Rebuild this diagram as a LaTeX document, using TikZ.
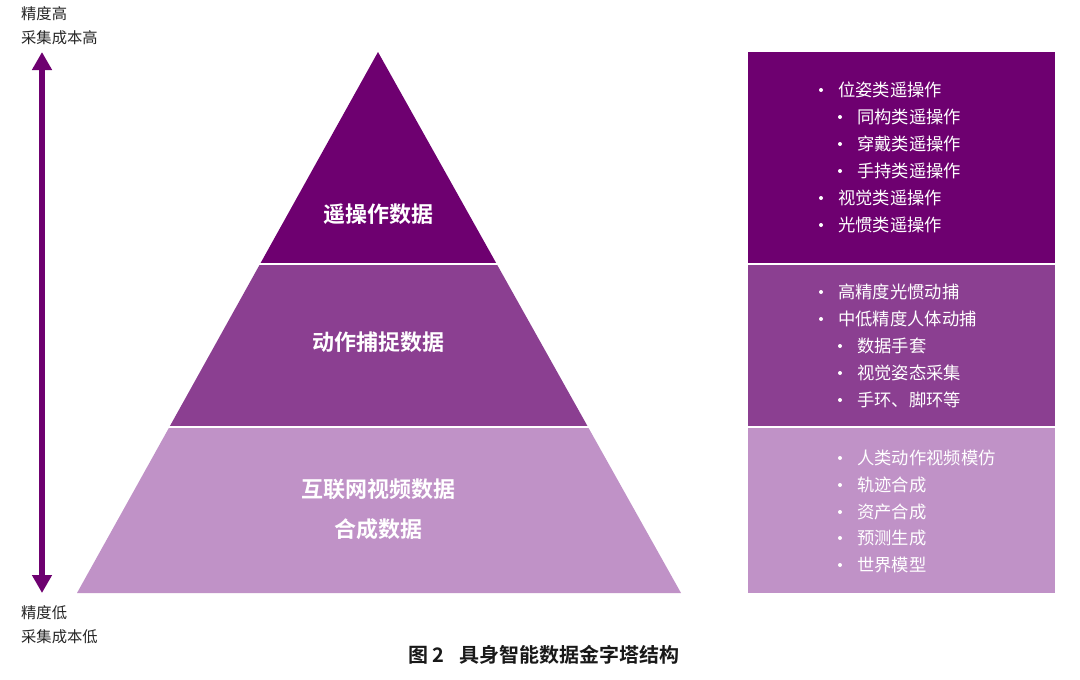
\documentclass[tikz,border=0pt]{standalone}
\usepackage{fontspec}
\setmainfont{Noto Sans CJK SC}[BoldFont={Noto Sans CJK SC Bold}]
\usetikzlibrary{arrows.meta}
\definecolor{pdark}{HTML}{6E0070}
\definecolor{pmid}{HTML}{8B3F91}
\definecolor{plight}{HTML}{C092C7}
\tikzset{
  tier/.style={text=white,font=\fontsize{22}{26}\selectfont\bfseries,inner sep=0pt},
  item/.style={text=white,font=\fontsize{17.3}{20}\selectfont,anchor=west,inner sep=0pt},
  bul/.style={circle,fill=white,inner sep=0pt,minimum size=4pt},
  side/.style={text=black!85,font=\fontsize{15.3}{18}\selectfont,anchor=west,inner sep=0pt},
  sep/.style={white,line width=2pt},
}
\begin{document}
\begin{tikzpicture}[x=1pt,y=-1pt]
\useasboundingbox (0,0) rectangle (1080,680);
\fill[white] (0,0) rectangle (1080,680);
% pyramid
\fill[pdark] (378,52) -- (496.7,264) -- (260.05,264) -- cycle;
\fill[pmid] (260.05,264) -- (496.7,264) -- (588,427) -- (169.4,427) -- cycle;
\fill[plight] (169.4,427) -- (588,427) -- (681,593) -- (77,593) -- cycle;
\draw[sep] (255,264) -- (502,264);
\draw[sep] (165,427) -- (593,427);
\node[tier] (t1) at (378,214) {遥操作数据};
\node[tier] (t2) at (378,342) {动作捕捉数据};
\node[tier] (t3a) at (378,489) {互联网视频数据};
\node[tier] (t3b) at (378,529) {合成数据};
% boxes
\fill[pdark] (748,52) rectangle (1055,263);
\fill[pmid] (748,265) rectangle (1055,426);
\fill[plight] (748,428) rectangle (1055,593);
% top box items
\node[bul] (b11) at (821,90) {};  \node[item] (i11) at (838,90) {位姿类遥操作};
\node[bul] (b12) at (840,117) {}; \node[item] (i12) at (857,117) {同构类遥操作};
\node[bul] (b13) at (840,144) {}; \node[item] (i13) at (857,144) {穿戴类遥操作};
\node[bul] (b14) at (840,171) {}; \node[item] (i14) at (857,171) {手持类遥操作};
\node[bul] (b15) at (821,198) {}; \node[item] (i15) at (838,198) {视觉类遥操作};
\node[bul] (b16) at (821,225) {}; \node[item] (i16) at (838,225) {光惯类遥操作};
% middle box items
\node[bul] (b21) at (821,292) {}; \node[item] (i21) at (838,292) {高精度光惯动捕};
\node[bul] (b22) at (821,319) {}; \node[item] (i22) at (838,319) {中低精度人体动捕};
\node[bul] (b23) at (840,346) {}; \node[item] (i23) at (857,346) {数据手套};
\node[bul] (b24) at (840,373) {}; \node[item] (i24) at (857,373) {视觉姿态采集};
\node[bul] (b25) at (840,400) {}; \node[item] (i25) at (857,400) {手环、脚环等};
% bottom box items
\node[bul] (b31) at (840,458) {}; \node[item] (i31) at (857,458) {人类动作视频模仿};
\node[bul] (b32) at (840,485) {}; \node[item] (i32) at (857,485) {轨迹合成};
\node[bul] (b33) at (840,512) {}; \node[item] (i33) at (857,512) {资产合成};
\node[bul] (b34) at (840,538) {}; \node[item] (i34) at (857,538) {预测生成};
\node[bul] (b35) at (840,565) {}; \node[item] (i35) at (857,565) {世界模型};
% left axis
\coordinate (atop) at (42,52);
\coordinate (abot) at (42,593);
\draw[pdark,line width=6pt,{Triangle[width=19pt,length=18pt]}-{Triangle[width=19pt,length=18pt]}] (atop) -- (abot);
\node[side] (l1) at (21,14) {精度高};
\node[side] (l2) at (21,38) {采集成本高};
\node[side] (l3) at (21,613) {精度低};
\node[side] (l4) at (21,637) {采集成本低};
% caption
\node[font=\fontsize{20}{24}\selectfont\bfseries,text=black!90,inner sep=0pt] (cap) at (544,655) {图 2\hspace{0.75em}具身智能数据金字塔结构};
\end{tikzpicture}
\end{document}
